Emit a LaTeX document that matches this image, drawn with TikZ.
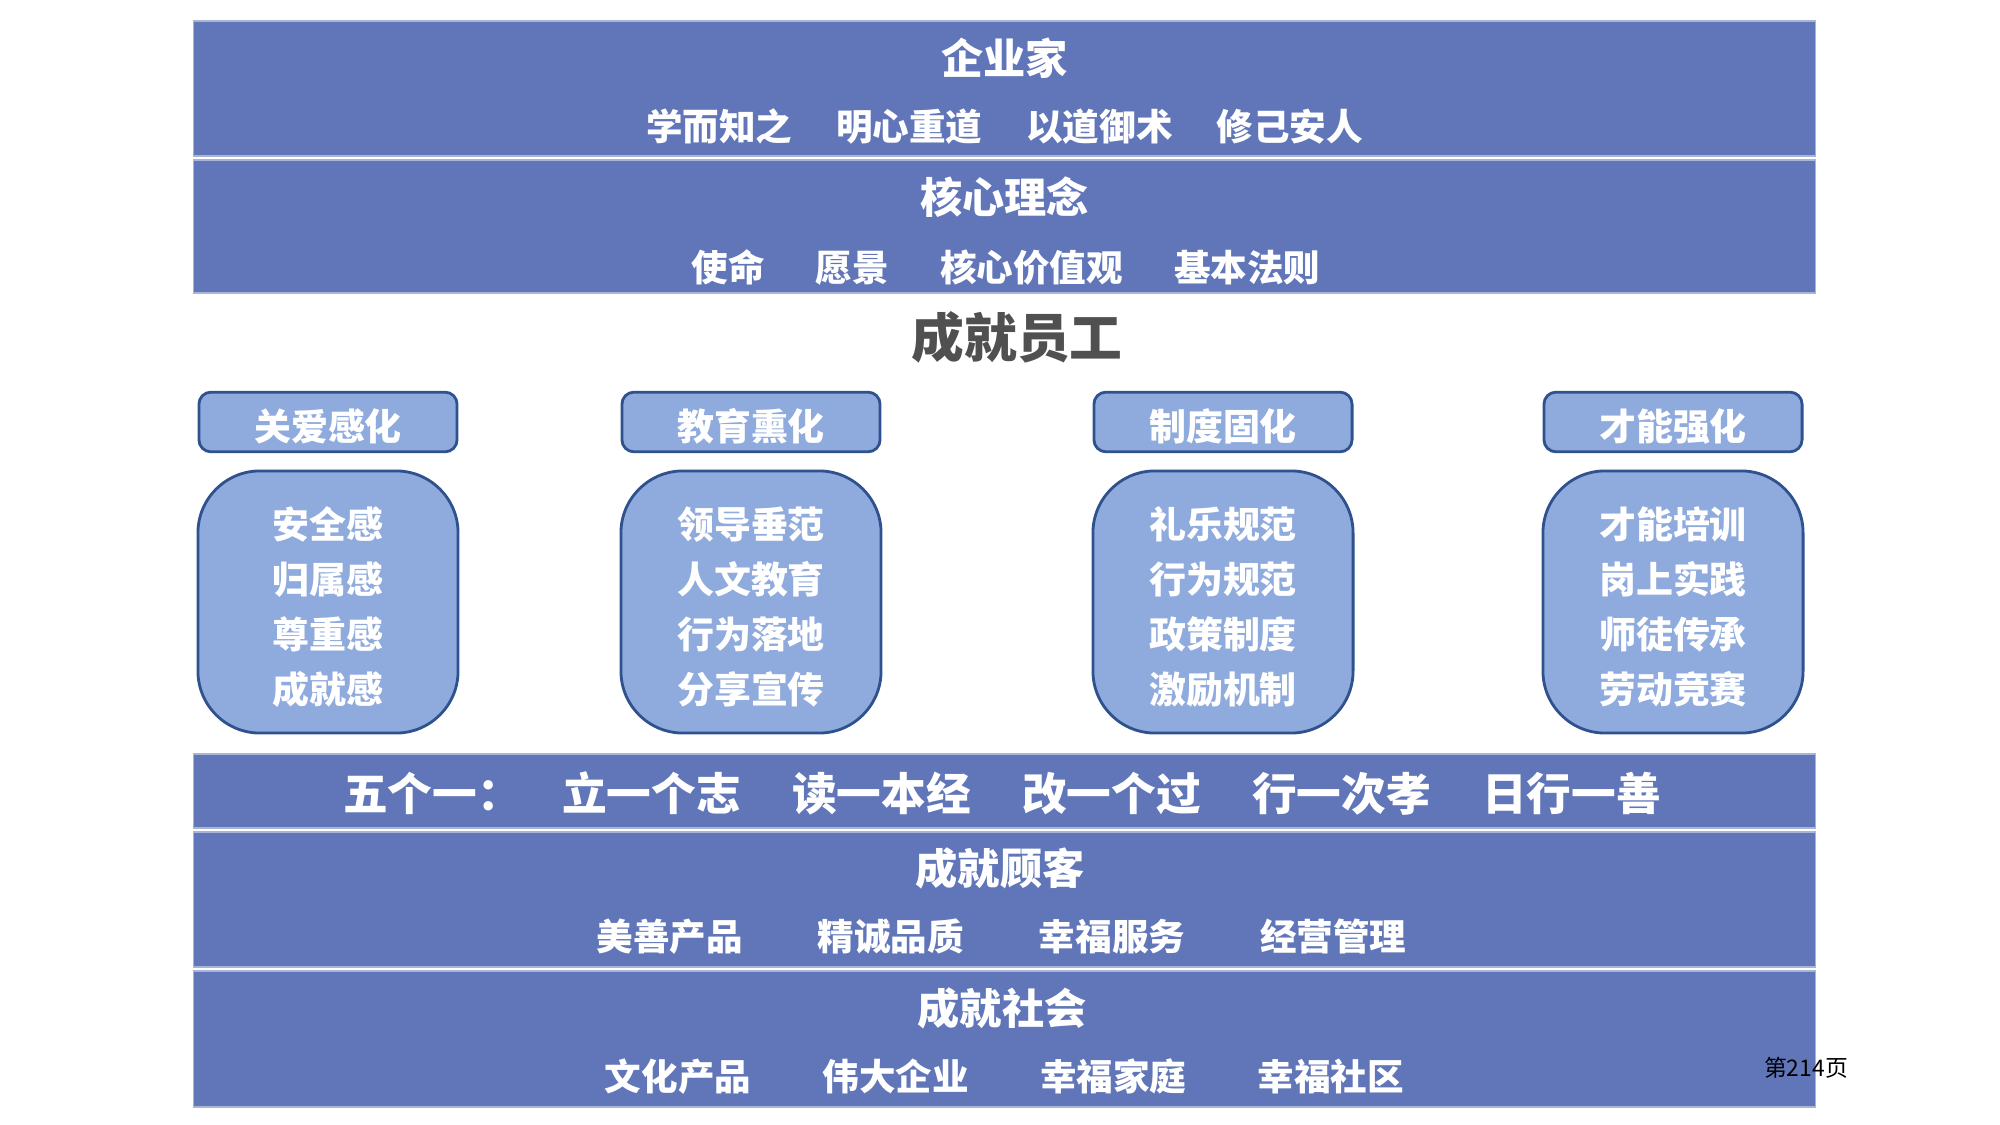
\documentclass[tikz,border=0pt]{standalone}
\usepackage{fontspec}
\setmainfont{Noto Sans CJK SC}
\definecolor{bandblue}{HTML}{6076B8}
\definecolor{lightblue}{HTML}{8FAADC}
\definecolor{edgeblue}{HTML}{2F528F}
\definecolor{titlegray}{HTML}{505050}
\begin{document}
\begin{tikzpicture}[x=0.01cm,y=-0.01cm,
	band/.style={fill=bandblue,draw=bandblue!55!white,line width=0.4pt,minimum width=16.21cm,inner sep=0pt},
	bigtxt/.style={text=white,font=\bfseries\fontsize{12}{14}\selectfont},
	smalltxt/.style={text=white,font=\bfseries\fontsize{10.4}{12}\selectfont},
	headbox/.style={fill=lightblue,draw=edgeblue,line width=0.8pt,rounded corners=0.12cm,minimum width=2.58cm,minimum height=0.58cm,text height=10.3pt,text depth=0pt,text=white,font=\bfseries\fontsize{10.5}{12}\selectfont},
	itembox/.style={fill=lightblue,draw=edgeblue,line width=0.8pt,rounded corners=0.62cm,minimum width=2.6cm,minimum height=2.62cm},
	itemtxt/.style={align=center,text=white,font=\bfseries\fontsize{10.5}{15.6}\selectfont}]
	\useasboundingbox (0,0) rectangle (2000,1125);
	\node[band,minimum height=1.35cm] (qyj) at (1004.5,88.5) {};
	\node[bigtxt] (qyjt) at (1004.5,58) {企业家};
	\node[smalltxt] (qyjs) at (1004.5,127) {学而知之\hspace{1.2em}明心重道\hspace{1.2em}以道御术\hspace{1.2em}修己安人};
	\node[band,minimum height=1.33cm] (hxln) at (1004.5,226.5) {};
	\node[bigtxt] (hxlnt) at (1004.5,197) {核心理念};
	\node[smalltxt] (hxlns) at (1006,267) {使命\hspace{1.4em}愿景\hspace{1.4em}核心价值观\hspace{1.4em}基本法则};
	\node[text=titlegray,font=\bfseries\fontsize{15}{16}\selectfont] (cjyg) at (1017,337) {成就员工};
	\foreach \x/\n/\h/\t in {328/ga/关爱感化/安全感\\归属感\\尊重感\\成就感,
		751/jy/教育熏化/领导垂范\\人文教育\\行为落地\\分享宣传,
		1223/zd/制度固化/礼乐规范\\行为规范\\政策制度\\激励机制,
		1673/cn/才能强化/才能培训\\岗上实践\\师徒传承\\劳动竞赛}{
		\node[headbox] (\n h) at (\x,422) {\h};
		\node[itembox] (\n b) at (\x,602) {};
		\node[itemtxt] (\n t) at (\x,607) {\t};
	}
	\node[band,minimum height=0.74cm] (wgy) at (1004.5,791) {};
	\node[text=white,font=\bfseries\fontsize{12.7}{14}\selectfont] (wgyt) at (1002,793) {五个一：\hspace{0.9em}立一个志\hspace{1.15em}读一本经\hspace{1.15em}改一个过\hspace{1.15em}行一次孝\hspace{1.15em}日行一善};
	\node[band,minimum height=1.35cm] (cjgk) at (1004.5,899.5) {};
	\node[bigtxt] (cjgkt) at (1000,868) {成就顾客};
	\node[smalltxt] (cjgks) at (1001.5,937) {美善产品\hspace{2.05em}精诚品质\hspace{2.05em}幸福服务\hspace{2.05em}经营管理};
	\node[band,minimum height=1.36cm] (cjsh) at (1004.5,1039) {};
	\node[bigtxt] (cjsht) at (1002,1008) {成就社会};
	\node[smalltxt] (cjshs) at (1004.5,1077) {文化产品\hspace{1.95em}伟大企业\hspace{1.95em}幸福家庭\hspace{1.95em}幸福社区};
	\node[font=\fontsize{6.5}{8}\selectfont] (ym) at (1806,1068) {第214页};
\end{tikzpicture}
\end{document}
